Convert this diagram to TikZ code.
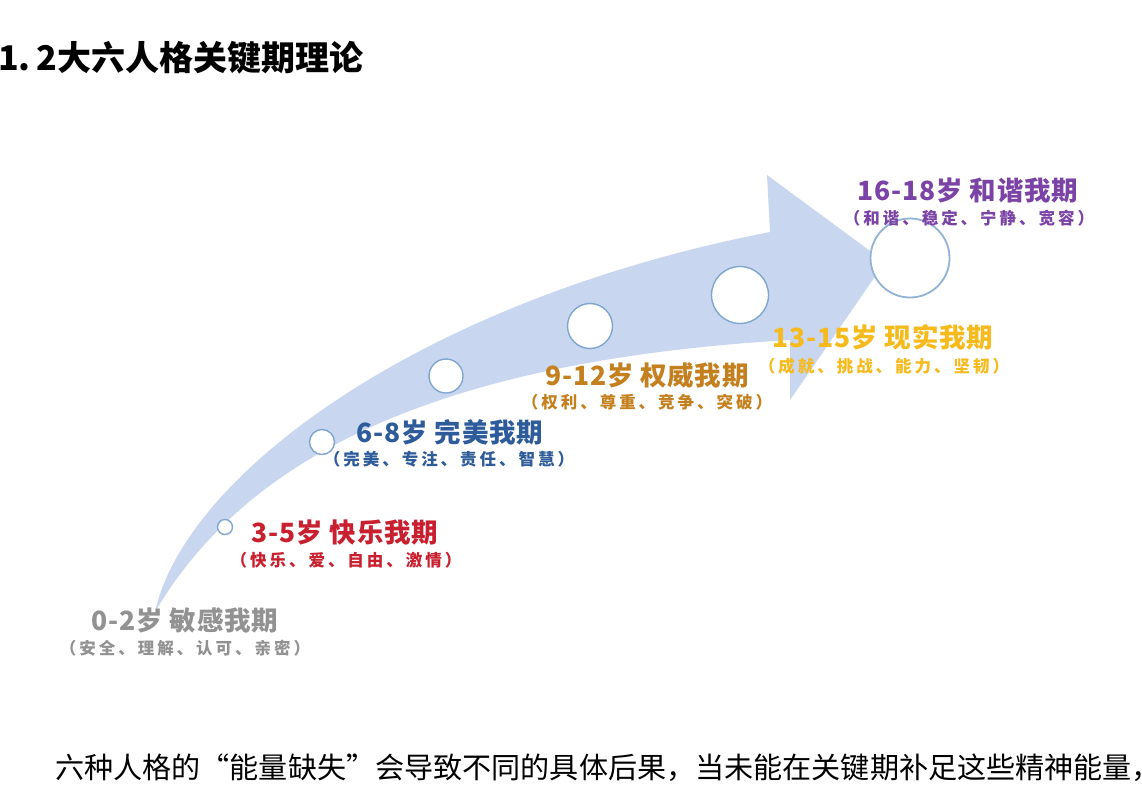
\documentclass[tikz,border=0pt]{standalone}
\usepackage{fontspec}
\setmainfont{Noto Sans CJK SC}
\newfontfamily\cjk{Noto Sans CJK SC}
\newfontfamily\cjkstage{Noto Sans CJK SC}[LetterSpace=3]
\newfontfamily\cjksub{Noto Sans CJK SC}[LetterSpace=18]
\definecolor{arrowfill}{HTML}{C9D6F0}
\definecolor{ringcol}{HTML}{7EA6CF}
\definecolor{cgray}{HTML}{929292}
\definecolor{cred}{HTML}{C8202F}
\definecolor{cblue}{HTML}{2E5B9A}
\definecolor{cbrown}{HTML}{C4801E}
\definecolor{cyellow}{HTML}{F6BA1C}
\definecolor{cpurple}{HTML}{7B43A6}
\tikzset{
  stage/.style={inner sep=0pt, font=\cjkstage\bfseries\fontsize{26.5}{26.5}\selectfont},
  stagesub/.style={inner sep=0pt, font=\cjksub\bfseries\fontsize{16.5}{16.5}\selectfont},
  ring/.style={circle, draw=ringcol, fill=white, line width=1.4pt, inner sep=0pt},
}
\begin{document}
\begin{tikzpicture}[x=1pt,y=-1pt]
\useasboundingbox (0,0) rectangle (1142,788);
\fill[white] (0,0) rectangle (1142,788);
% curved arrow
\coordinate (T) at (155,612);
\coordinate (N1) at (770,232);
\coordinate (B1) at (767,175);
\coordinate (TIP) at (885,262);
\coordinate (B2) at (790,400);
\coordinate (N2) at (790,340);
\fill[arrowfill] (T) .. controls (185,475) and (420,300) .. (N1) -- (B1) -- (TIP) -- (B2) -- (N2)
  .. controls (450,360) and (250,450) .. (T) -- cycle;
% rings
\node[ring, minimum size=15pt] (c1) at (225,527) {};
\node[ring, minimum size=25pt] (c2) at (322,442) {};
\node[ring, minimum size=34pt] (c3) at (446,376) {};
\node[ring, minimum size=45pt] (c4) at (590,326) {};
\node[ring, minimum size=57pt] (c5) at (740,295) {};
\node[ring, minimum size=79pt, line width=1.8pt, draw=ringcol!85] (c6) at (910,258) {};
% title
\node[inner sep=0pt, anchor=base west, font=\cjk\bfseries\fontsize{34}{34}\selectfont] (title) at (-2,70) {1.\,2大六人格关键期理论};
% stage labels
\node[stage, text=cgray] (l0) at (185,620) {0-2岁 敏感我期};
\node[stagesub, text=cgray] (s0) at (185,648) {（安全、理解、认可、亲密）};
\node[stage, text=cred] (l1) at (345,532) {3-5岁 快乐我期};
\node[stagesub, text=cred] (s1) at (346,560) {（快乐、爱、自由、激情）};
\node[stage, text=cblue] (l2) at (450,432) {6-8岁 完美我期};
\node[stagesub, text=cblue] (s2) at (449,459) {（完美、专注、责任、智慧）};
\node[stage, text=cbrown] (l3) at (647,375) {9-12岁 权威我期};
\node[stagesub, text=cbrown] (s3) at (647,402) {（权利、尊重、竞争、突破）};
\node[stage, text=cyellow] (l4) at (883,337) {13-15岁 现实我期};
\node[stagesub, text=cyellow] (s4) at (884,366) {（成就、挑战、能力、坚韧）};
\node[stage, text=cpurple] (l5) at (968,190) {16-18岁 和谐我期};
\node[stagesub, text=cpurple] (s5) at (969,218) {（和谐、稳定、宁静、宽容）};
% body text
\node[inner sep=0pt, anchor=base west, font=\cjk\fontsize{29.1}{29.1}\selectfont] (body) at (55,778) {六种人格的“能量缺失”会导致不同的具体后果，当未能在关键期补足这些精神能量，};
\end{tikzpicture}
\end{document}
